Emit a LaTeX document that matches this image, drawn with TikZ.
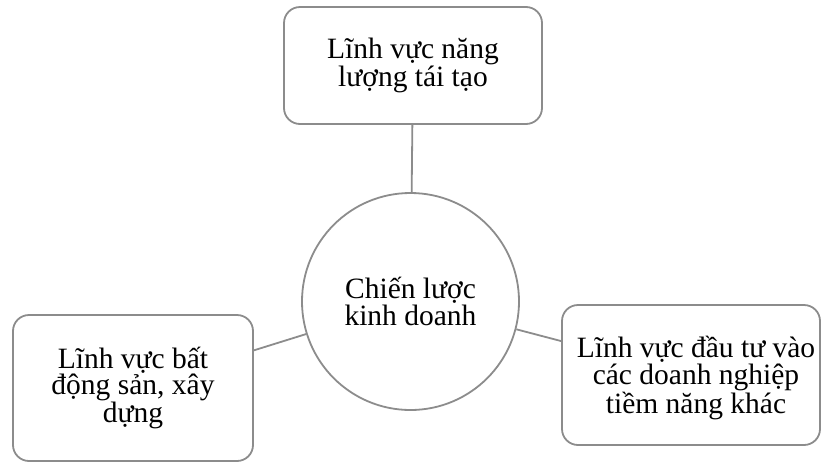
\documentclass[tikz,border=0pt]{standalone}
\usepackage{fontspec}
\setmainfont{Liberation Serif}
\begin{document}
\begin{tikzpicture}[x=1pt,y=-1pt,
  every node/.style={font=\fontsize{29.5}{26.5}\selectfont, align=center, inner sep=0pt},
  field/.style={draw=linegray, line width=1.8pt, rounded corners=16pt, fill=white},
  hub/.style={draw=linegray, line width=1.8pt, circle, fill=white, minimum size=217pt},
  link/.style={draw=linegray, line width=1.8pt}]
\definecolor{linegray}{HTML}{8C8C8C}
\useasboundingbox (0,0) rectangle (822,464);
% centre strategy and three business fields
\node[hub] (hub) at (410.5,301.5) {Chiến lược\\kinh doanh};
\node[field, minimum width=258pt, minimum height=117pt] (top) at (413,65.5) {Lĩnh vực năng\\lượng tái tạo};
\node[field, minimum width=240pt, minimum height=146pt] (left) at (133,388) {Lĩnh vực bất\\động sản, xây\\dựng};
\node[field, minimum width=258pt, minimum height=140pt] (right) at (691,375) {};
\node (righttext) at (696,378) {Lĩnh vực đầu tư vào\\các doanh nghiệp\\tiềm năng khác};
% connectors
\path[link] (hub) -- (top);
\path[link] (hub) -- (left);
\path[link] (hub) -- (right);
\end{tikzpicture}
\end{document}
